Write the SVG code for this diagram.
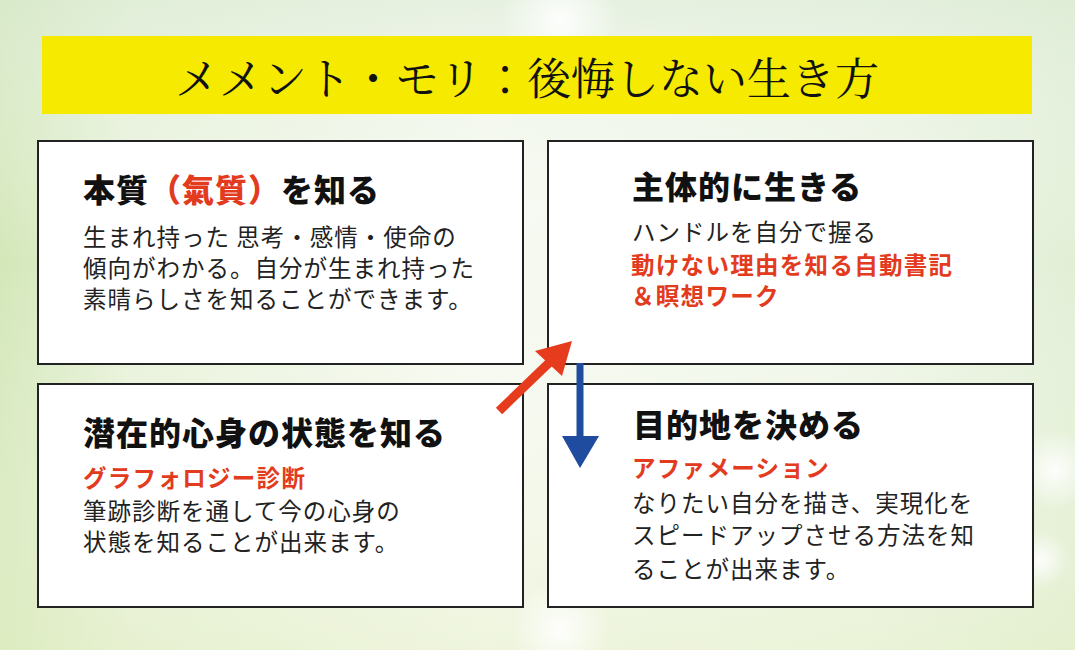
<svg xmlns="http://www.w3.org/2000/svg" width="1075" height="650" viewBox="0 0 1075 650">
<defs>
<linearGradient id="bgH" x1="0" y1="0" x2="1" y2="0">
<stop offset="0" stop-color="#d3e7b8"/>
<stop offset="0.12" stop-color="#e8f2da"/>
<stop offset="0.45" stop-color="#f7faf2"/>
<stop offset="0.8" stop-color="#eff6e8"/>
<stop offset="1" stop-color="#e2efd6"/>
</linearGradient>
<linearGradient id="bgV" x1="0" y1="0" x2="0" y2="1">
<stop offset="0" stop-color="#dcebd6" stop-opacity="0.6"/>
<stop offset="0.4" stop-color="#ffffff" stop-opacity="0"/>
<stop offset="1" stop-color="#e6f0c8" stop-opacity="0.5"/>
</linearGradient>
<radialGradient id="glow">
<stop offset="0" stop-color="#ffffff" stop-opacity="0.9"/>
<stop offset="1" stop-color="#ffffff" stop-opacity="0"/>
</radialGradient>
<style>
.box{fill:#ffffff;stroke:#222222;stroke-width:2}
.h{font-family:"Noto Sans CJK JP","Noto Sans",sans-serif;font-weight:900;font-size:32px;letter-spacing:1px;fill:#111111}
.b{font-family:"Noto Sans CJK JP","Noto Sans",sans-serif;font-weight:400;font-size:23.5px;letter-spacing:1px;fill:#222222}
.r{font-family:"Noto Sans CJK JP","Noto Sans",sans-serif;font-weight:700;font-size:23.5px;letter-spacing:1.3px;fill:#e23b1d}
.red{fill:#e23b1d}
.title{font-family:"Noto Serif CJK JP","Noto Sans CJK JP",serif;font-weight:400;font-size:44px;fill:#111111}
</style>
</defs>
<rect x="0" y="0" width="1075" height="650" fill="url(#bgH)"/>
<rect x="0" y="0" width="1075" height="650" fill="url(#bgV)"/>
<circle cx="1055" cy="470" r="40" fill="url(#glow)"/>
<circle cx="1040" cy="560" r="30" fill="url(#glow)"/>
<circle cx="560" cy="20" r="60" fill="url(#glow)"/>
<circle cx="560" cy="630" r="50" fill="url(#glow)"/>

<g id="title">
<rect x="42" y="36" width="990" height="78" fill="#f5ea00"/>
<text class="title" x="527" y="95" text-anchor="middle">メメント・モリ：後悔しない生き方</text>
</g>

<g id="node-honshitsu">
<rect class="box" x="38" y="141" width="485" height="223"/>
<text class="h" x="83" y="202">本質<tspan class="red">（氣質）</tspan>を知る</text>
<text class="b" x="83" y="246">生まれ持った 思考・感情・使命の</text>
<text class="b" x="83" y="277">傾向がわかる。自分が生まれ持った</text>
<text class="b" x="83" y="308">素晴らしさを知ることができます。</text>
</g>

<g id="node-shutai">
<rect class="box" x="548" y="141" width="485" height="223"/>
<text class="h" x="632" y="199">主体的に生きる</text>
<text class="b" x="632" y="241">ハンドルを自分で握る</text>
<text class="r" x="631" y="274">動けない理由を知る自動書記</text>
<text class="r" x="631" y="305">＆瞑想ワーク</text>
</g>

<g id="node-senzai">
<rect class="box" x="38" y="384" width="485" height="223"/>
<text class="h" x="83" y="445">潜在的心身の状態を知る</text>
<text class="r" x="83" y="487">グラフォロジー診断</text>
<text class="b" x="83" y="520">筆跡診断を通して今の心身の</text>
<text class="b" x="83" y="551">状態を知ることが出来ます。</text>
</g>

<g id="node-mokuteki">
<rect class="box" x="548" y="384" width="485" height="223"/>
<text class="h" x="633" y="437">目的地を決める</text>
<text class="r" x="632" y="477">アファメーション</text>
<text class="b" x="632" y="512">なりたい自分を描き、実現化を</text>
<text class="b" x="632" y="544">スピードアップさせる方法を知</text>
<text class="b" x="632" y="578">ることが出来ます。</text>
</g>

<g id="connectors">
<line x1="499" y1="411" x2="552" y2="360" stroke="#e63b1c" stroke-width="9"/>
<polygon points="572,341 535,351 562,376" fill="#e63b1c"/>
<line x1="580" y1="363" x2="580" y2="438" stroke="#1f4c9e" stroke-width="7"/>
<polygon points="562,436 599,436 580,468" fill="#1f4c9e"/>
</g>
</svg>
